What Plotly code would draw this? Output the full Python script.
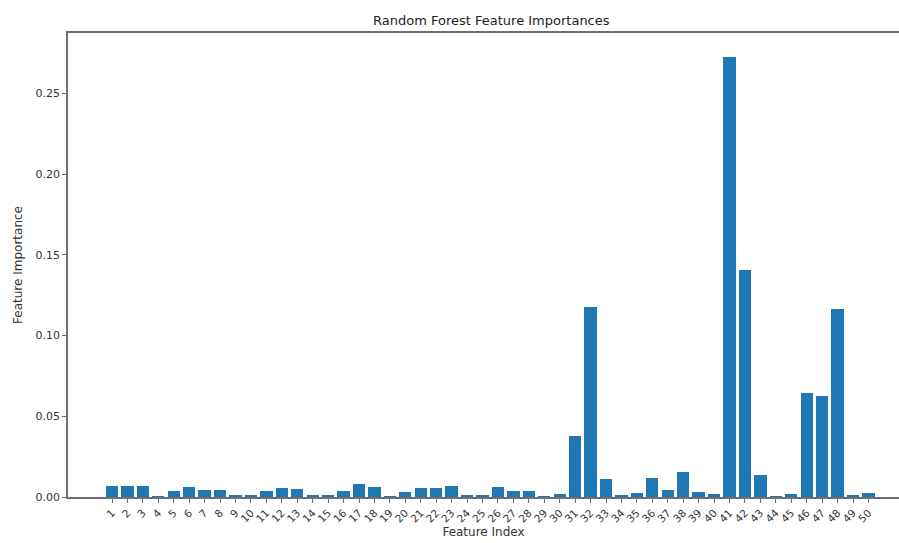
import plotly.graph_objects as go

features = list(range(1, 51))
importances = [
    0.0070, 0.0070, 0.0070, 0.0005, 0.0035, 0.0060, 0.0045, 0.0045, 0.0012, 0.0015,
    0.0035, 0.0055, 0.0048, 0.0012, 0.0015, 0.0035, 0.0080, 0.0060, 0.0005, 0.0030,
    0.0055, 0.0055, 0.0070, 0.0012, 0.0015, 0.0060, 0.0040, 0.0040, 0.0005, 0.0020,
    0.0375, 0.1175, 0.0110, 0.0010, 0.0025, 0.0115, 0.0045, 0.0155, 0.0030, 0.0018,
    0.2725, 0.1405, 0.0135, 0.0005, 0.0020, 0.0645, 0.0625, 0.1165, 0.0010, 0.0025,
]
y_ticks = [0.00, 0.05, 0.10, 0.15, 0.20, 0.25]

font_family = "DejaVu Sans, sans-serif"
axis_col = "#707070"

fig = go.Figure(go.Bar(
    x=features, y=importances, width=0.8,
    marker=dict(color="#1f77b4", line=dict(width=0)),
))

fig.update_layout(
    width=899, height=543,
    margin=dict(l=68, r=0, t=33, b=46),
    paper_bgcolor="white", plot_bgcolor="white",
    showlegend=False,
    bargap=0,
    title=dict(text="Random Forest Feature Importances", x=0.5465, xanchor="center",
               y=0.962, yanchor="middle",
               font=dict(family=font_family, size=13, color="#222")),
    font=dict(family=font_family, size=11, color="#333"),
)

fig.update_xaxes(
    range=[-1.85, 51.98],
    tickmode="array", tickvals=features, ticktext=[str(f) for f in features],
    tickangle=-45, tickfont=dict(size=10.5, color="#333"),
    ticks="outside", ticklen=4, tickcolor=axis_col,
    showline=True, linecolor=axis_col, linewidth=1.5, mirror=True,
    showgrid=False, zeroline=False,
    title=dict(text="Feature Index", font=dict(size=12, color="#333"), standoff=4),
)
fig.update_yaxes(
    range=[0, 0.2875],
    tickmode="array", tickvals=y_ticks, ticktext=[f"{v:.2f}" for v in y_ticks],
    tickfont=dict(size=11, color="#333"),
    ticks="outside", ticklen=4, tickcolor=axis_col,
    showline=True, linecolor=axis_col, linewidth=1.5,
    showgrid=False, zeroline=False,
    title=dict(text="Feature Importance", font=dict(size=12, color="#333"), standoff=10),
)

fig.write_html("out.html")
